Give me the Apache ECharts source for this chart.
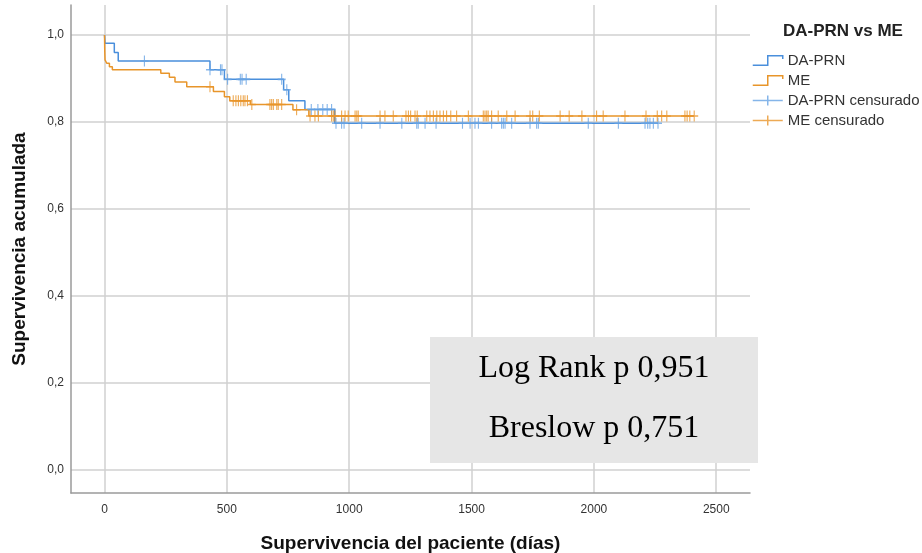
<!DOCTYPE html>
<html>
<head>
<meta charset="utf-8">
<script src="https://cdn.jsdelivr.net/npm/echarts@6/dist/echarts.min.js"></script>
<style>
html,body{margin:0;padding:0;background:#fff;}
#chart{width:922px;height:553px;}
</style>
</head>
<body>
<div id="chart"></div>
<script>
// ---- Data ----
const xTicks = [0, 500, 1000, 1500, 2000, 2500];
const yTicks = [0, 0.2, 0.4, 0.6, 0.8, 1.0];

// Kaplan-Meier events: [day, survival after the drop]
const daPrnEvents = [[0,1.0],[2,0.981],[40,0.960],[56,0.940],[431,0.920],[490,0.898],[732,0.874],[753,0.849],[819,0.829],[941,0.797]];
const meEvents = [[0,1.0],[1,0.962],[2,0.943],[9,0.935],[20,0.927],[32,0.920],[230,0.912],[265,0.903],[288,0.892],[336,0.881],[445,0.870],[490,0.858],[512,0.849],[596,0.840],[770,0.828],[835,0.814]];

// Censored observation days
const daPrnCensored = [163,431,474,480,503,555,562,579,724,745,845,872,892,910,928,946,969,979,1051,1126,1215,1276,1282,1310,1355,1463,1494,1514,1528,1582,1623,1630,1637,1664,1739,1766,1773,1977,2100,2209,2220,2229,2243,2262];
const meCensored = [431,526,537,547,557,567,574,584,602,676,683,690,704,710,724,785,840,860,874,928,935,942,969,983,996,1024,1031,1037,1126,1146,1180,1232,1242,1251,1269,1278,1317,1330,1344,1358,1371,1385,1398,1415,1439,1487,1548,1555,1562,1568,1582,1609,1644,1678,1739,1750,1777,1862,1899,1951,2011,2038,2127,2213,2259,2277,2298,2372,2381,2392,2410];

const seriesNames = ['DA-PRN', 'ME', 'DA-PRN censurado', 'ME censurado'];
const statTexts = ['Log Rank p 0,951', 'Breslow p 0,751'];
const legendTitle = 'DA-PRN vs ME';

// ---- Helpers ----
function levelAt(events, t) {
  let s = events[0][1];
  for (const e of events) { if (e[0] <= t) s = e[1]; }
  return s;
}
function curve(events, censored) {
  const pts = events.map(e => [e[0], e[1]]);
  const last = censored[censored.length - 1];
  pts.push([last, levelAt(events, last)]);
  return pts;
}
function marks(events, censored) {
  return censored.map(t => [t, levelAt(events, t)]);
}

const blue = '#4a8fdc';
const blueC = '#66a2e4';
const orange = '#e8952a';
const plusPath = 'path://M0,5 L8,5 M4,0 L4,10';
const stepIcon = 'path://M0,10 L14,10 L14,1 L28,1 L28,4';
const plusIcon = 'path://M0,5 L30,5 M15,0 L15,10';

const chart = echarts.init(document.getElementById('chart'), null, {renderer: 'canvas'});
const font = 'Liberation Sans, Arial, sans-serif';
const serif = 'Liberation Serif, Times New Roman, serif';

chart.setOption({
  animation: false,
  backgroundColor: '#ffffff',
  textStyle: {fontFamily: font},
  grid: {left: 71, right: 172, top: 5, bottom: 60, containLabel: false, outerBoundsMode: 'none'},
  title: {
    text: legendTitle, left: 778, top: 18,
    textStyle: {fontFamily: font, fontSize: 17, fontWeight: 'bold', color: '#222'}
  },
  legend: {
    orient: 'vertical', left: 747, top: 48,
    itemWidth: 30, itemHeight: 12, itemGap: 5,
    textStyle: {fontFamily: font, fontSize: 15, color: '#333'},
    data: [
      {name: seriesNames[0], icon: stepIcon, itemStyle: {color: 'rgba(0,0,0,0)', borderColor: blue, borderWidth: 1.5}},
      {name: seriesNames[1], icon: stepIcon, itemStyle: {color: 'rgba(0,0,0,0)', borderColor: orange, borderWidth: 1.5}},
      {name: seriesNames[2], icon: plusIcon, itemStyle: {color: 'rgba(0,0,0,0)', borderColor: blueC, borderWidth: 1.5}},
      {name: seriesNames[3], icon: plusIcon, itemStyle: {color: 'rgba(0,0,0,0)', borderColor: orange, borderWidth: 1.5}}
    ]
  },
  xAxis: {
    type: 'value', min: -137, max: 2638,
    name: 'Supervivencia del paciente (días)', nameLocation: 'middle', nameGap: 41,
    nameTextStyle: {fontFamily: font, fontSize: 19, fontWeight: 'bold', color: '#111'},
    axisLine: {show: true, onZero: false, lineStyle: {color: '#9a9a9a', width: 1.5}},
    axisTick: {show: false, customValues: xTicks},
    axisLabel: {customValues: xTicks, fontSize: 12, color: '#333', margin: 11, fontFamily: font,
      formatter: v => String(Math.round(v))},
    splitLine: {show: true, lineStyle: {color: '#d0d0d0', width: 1.5}}
  },
  yAxis: {
    type: 'value', min: -0.053, max: 1.069,
    name: 'Supervivencia acumulada', nameLocation: 'middle', nameGap: 42,
    nameTextStyle: {fontFamily: font, fontSize: 19, fontWeight: 'bold', color: '#111'},
    axisLine: {show: true, onZero: false, lineStyle: {color: '#9a9a9a', width: 1.5}},
    axisTick: {show: false, customValues: yTicks},
    axisLabel: {customValues: yTicks, fontSize: 12, color: '#333', margin: 7, fontFamily: font,
      formatter: v => v.toFixed(1).replace('.', ',')},
    splitLine: {show: true, lineStyle: {color: '#d0d0d0', width: 1.5}}
  },
  series: [
    {name: seriesNames[0], type: 'line', step: 'end', showSymbol: false, symbol: 'none',
      lineStyle: {color: blue, width: 1.5}, itemStyle: {color: blue}, z: 3,
      data: curve(daPrnEvents, daPrnCensored)},
    {name: seriesNames[1], type: 'line', step: 'end', showSymbol: false, symbol: 'none',
      lineStyle: {color: orange, width: 1.5}, itemStyle: {color: orange}, z: 4,
      data: curve(meEvents, meCensored)},
    {name: seriesNames[2], type: 'scatter', symbol: plusPath, symbolSize: [8, 11],
      itemStyle: {color: 'rgba(0,0,0,0)', borderColor: blueC, borderWidth: 1.3}, z: 5,
      data: marks(daPrnEvents, daPrnCensored)},
    {name: seriesNames[3], type: 'scatter', symbol: plusPath, symbolSize: [8, 11],
      itemStyle: {color: 'rgba(0,0,0,0)', borderColor: orange, borderWidth: 1.3}, z: 6,
      data: marks(meEvents, meCensored)}
  ],
  graphic: [
    {type: 'rect', left: 430, top: 337, z: 100, shape: {width: 328, height: 126}, style: {fill: '#e6e6e6'}},
    {type: 'text', z: 101, x: 594, y: 369,
      style: {text: statTexts[0], fontFamily: serif, fontSize: 32, fill: '#000', align: 'center', verticalAlign: 'middle'}},
    {type: 'text', z: 101, x: 594, y: 429,
      style: {text: statTexts[1], fontFamily: serif, fontSize: 32, fill: '#000', align: 'center', verticalAlign: 'middle'}}
  ]
});
</script>
</body>
</html>
